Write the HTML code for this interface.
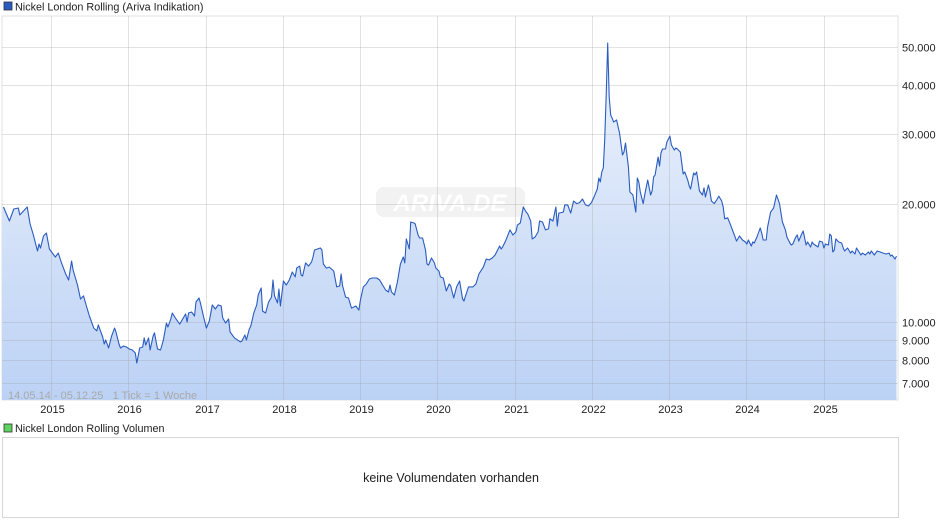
<!DOCTYPE html>
<html><head><meta charset="utf-8">
<style>
html,body{margin:0;padding:0;background:#fff;}
body{width:940px;height:526px;overflow:hidden;font-family:"Liberation Sans",Arial,sans-serif;}
svg text{font-family:"Liberation Sans",Arial,sans-serif;}
</style></head>
<body>
<svg id="chart" width="940" height="526" viewBox="0 0 940 526" xmlns="http://www.w3.org/2000/svg">
<defs>
<linearGradient id="fillGrad" x1="0" y1="0" x2="0" y2="1">
<stop offset="0" stop-color="#eef3fc"/>
<stop offset="1" stop-color="#bcd2f5"/>
</linearGradient>
<clipPath id="plotClip"><rect x="2" y="16" width="896" height="384"/></clipPath>
</defs>
<rect x="4" y="2" width="8" height="8" fill="#2a5cc0" stroke="#333" stroke-width="0.8"/>
<text x="15" y="10.5" font-size="10.8" fill="#222">Nickel London Rolling (Ariva Indikation)</text>
<rect x="2" y="16" width="896" height="384" fill="#fff" stroke="#e2e2e2" stroke-width="1"/>
<g id="watermark">
<rect x="376" y="187" width="149" height="30" rx="8" fill="#f2f2f2"/>
<text x="450" y="211" font-size="24" font-style="italic" font-weight="bold" fill="#fff" text-anchor="middle">ARIVA.DE</text>
</g>
<g id="area" clip-path="url(#plotClip)"></g>
<g id="grid"></g>
<g id="line" clip-path="url(#plotClip)"></g>
<g id="yaxis"></g>
<g id="xaxis"></g>
<text x="8" y="399" font-size="11" fill="#a8a8a8" xml:space="preserve" style="white-space:pre">14.05.14 - 05.12.25   1 Tick = 1 Woche</text>
<rect x="4" y="424" width="8" height="8" fill="#5fd35f" stroke="#333" stroke-width="0.8"/>
<text x="15" y="432" font-size="10.8" fill="#222">Nickel London Rolling Volumen</text>
<rect x="2.5" y="437.5" width="896" height="80" fill="#fff" stroke="#d6d6d6"/>
<text x="451" y="482" font-size="12.5" fill="#222" text-anchor="middle">keine Volumendaten vorhanden</text>
</svg>
<script>
const weeks=[1,5,8,11,12,17,19,21,24,25,26,28,30,32,36,38,40,43,45,47,48,51,53,55,57,59,62,64,65,68,69,70,72,74,76,77,79,80,82,84,86,88,90,91,93,95,96,97,99,100,102,103,105,107,109,111,112,114,115,117,120,124,125,126,128,130,131,133,134,136,138,140,142,144,146,148,149,151,153,154,157,161,162,164,165,167,168,170,172,173,175,176,178,180,182,183,184,186,187,188,190,192,194,196,198,199,201,202,203,205,207,209,210,211,213,215,216,217,219,221,224,226,228,229,230,232,234,236,239,241,242,244,246,248,250,253,255,257,259,261,262,263,265,267,269,271,272,273,275,276,278,279,281,282,284,286,287,288,290,292,293,295,296,298,300,302,303,305,307,309,311,312,313,315,318,320,322,325,327,329,331,333,336,337,338,340,343,345,347,348,350,352,354,355,357,358,360,362,363,365,367,369,370,372,374,375,376,379,380,382,384,386,388,390,392,394,396,398,400,402,403,404,405,406,407,408,409,410,411,412,413,415,417,419,420,421,423,424,426,428,429,430,431,433,434,436,438,439,440,441,443,444,445,446,448,449,451,452,454,455,456,458,460,461,463,464,465,467,468,469,471,473,474,475,477,478,479,481,483,484,486,487,488,490,492,494,495,496,498,500,502,503,504,506,507,508,510,512,513,514,516,517,519,520,521,523,525,527,529,530,532,533,534,536,537,538,540,541,543,544,546,547,548,550,551,552,554,555,556,558,559,560,561,562,563,565,567,568,569,571,573,574,576,577,580,581,583,585,586,587,589,591,593,595,597,599,600,601,603,604];
const prices=[19600,18060,19370,19490,18710,19600,17750,16740,15150,15790,15410,16540,16840,15330,14630,14970,14200,13240,12790,14290,13560,12420,11440,11650,10980,10360,9650,9490,9830,9160,8790,9000,8590,9210,9650,9430,8790,8590,8690,8640,8540,8490,8340,7865,8590,8640,9110,8740,9110,8490,9210,9380,8540,8490,9000,9940,9710,10180,10540,10240,9880,10480,10000,10540,10600,10360,11240,11510,11180,10360,9650,10060,11050,10790,11050,10980,10240,9940,10180,9430,9110,8900,8950,9270,9000,9600,9770,10540,11050,11710,12200,10660,10540,11240,11570,12790,11650,11180,12130,10980,12710,12420,12790,13400,13020,13710,13870,13170,13090,14130,13870,14200,14630,15240,15330,15420,15240,14040,13710,13790,13480,12280,12350,13240,12350,11570,11510,10850,10980,10730,11370,12280,12490,12860,12940,12940,12790,12420,12060,11920,12420,11920,11710,12640,14040,14630,14130,16260,15330,17960,17860,17750,16640,16350,16350,15240,14040,13950,14540,14130,13710,13480,13020,12940,11990,12490,12350,11510,12280,12710,11440,11310,11650,12280,12280,12490,13240,13790,14460,14380,14540,14800,15600,15330,15510,16060,17140,16640,16940,17630,17860,19600,19030,18840,18060,16260,16450,16940,18060,17960,17140,17240,18290,18060,19600,17530,18920,19030,19840,19840,18920,20300,20000,20120,20540,19840,19720,20120,20900,21780,23230,22700,24070,24640,29030,37760,51200,37320,33570,32990,32230,32620,30230,26570,27040,28510,24790,21400,21030,19030,23230,22700,21400,20000,21030,22960,21030,21530,23370,23650,26260,24910,26880,27520,27520,28680,29690,28180,27370,27690,27520,27040,23780,24070,22960,22170,21780,23920,23650,24070,21530,21030,21920,20780,22300,21530,20300,20000,20540,20900,20300,19600,18290,18400,17630,16840,16450,16060,16540,16160,15970,15790,16160,15600,15970,15880,16540,17340,16840,16160,16160,17440,19030,19250,19490,21030,20000,17960,17140,16450,15880,15690,15790,16450,16640,16060,16740,17030,15690,15970,15510,15970,15790,15600,15510,16060,15970,15420,15790,15690,16740,16540,15060,15240,16260,15970,15880,15420,15150,15420,14970,15150,14890,15420,14800,14970,14800,15060,14890,15150,14800,15150,15060,14970,14890,14970,14710,14800,14460,14710];
const yTicks=[50000,40000,30000,20000,10000,9000,8000,7000];
const yTickLabels=["50.000","40.000","30.000","20.000","10.000","9.000","8.000","7.000"];
const years=[2015,2016,2017,2018,2019,2020,2021,2022,2023,2024,2025];
const startYear=2014.366, totalWeeks=603;

const NS="http://www.w3.org/2000/svg";
const L=2,R=895,TOP=16,BOT=400;
function xWeek(w){return L+(R-L)*w/totalWeeks;}
function xYear(y){return xWeek((y-startYear)*52.18);}
function yVal(v){return 322-(Math.log10(v)-4)*393.4;}
function mk(tag,attrs,parent){const e=document.createElementNS(NS,tag);for(const k in attrs)e.setAttribute(k,attrs[k]);parent.appendChild(e);return e;}

const grid=document.getElementById('grid');
yTicks.forEach((t,i)=>{
  const y=Math.round(yVal(t))+0.5;
  const ln=mk('line',{x1:L,x2:898,y1:y,y2:y,stroke:'rgba(160,160,160,0.3)','stroke-width':1},grid);
  
  
  const tx=mk('text',{x:902,y:y+4,'font-size':11,fill:'#222'},document.getElementById('yaxis'));
  tx.textContent=yTickLabels[i];
  
  
});
years.forEach(yr=>{
  const x=Math.round(xYear(yr))+0.5;
  const ln=mk('line',{x1:x,x2:x,y1:TOP,y2:BOT,stroke:'rgba(160,160,160,0.3)','stroke-width':1},grid);
  
  
  const tx=mk('text',{x:x+1,y:413,'font-size':11,fill:'#222','text-anchor':'middle'},document.getElementById('xaxis'));
  tx.textContent=String(yr);
  
  
});

let d='';
weeks.forEach((w,i)=>{d+=(i?'L':'M')+xWeek(w).toFixed(1)+','+yVal(prices[i]).toFixed(1);});
const areaD=d+'L'+xWeek(weeks[weeks.length-1]).toFixed(1)+','+BOT+'L'+L+','+BOT+'L'+L+','+yVal(prices[0]).toFixed(1)+'Z';
const area=mk('path',{d:areaD,fill:'url(#fillGrad)',stroke:'none'},document.getElementById('area'));


const line=mk('path',{d:d,fill:'none',stroke:'#2a5cc0','stroke-width':1.1,'stroke-linejoin':'round'},document.getElementById('line'));


</script>
</body></html>
